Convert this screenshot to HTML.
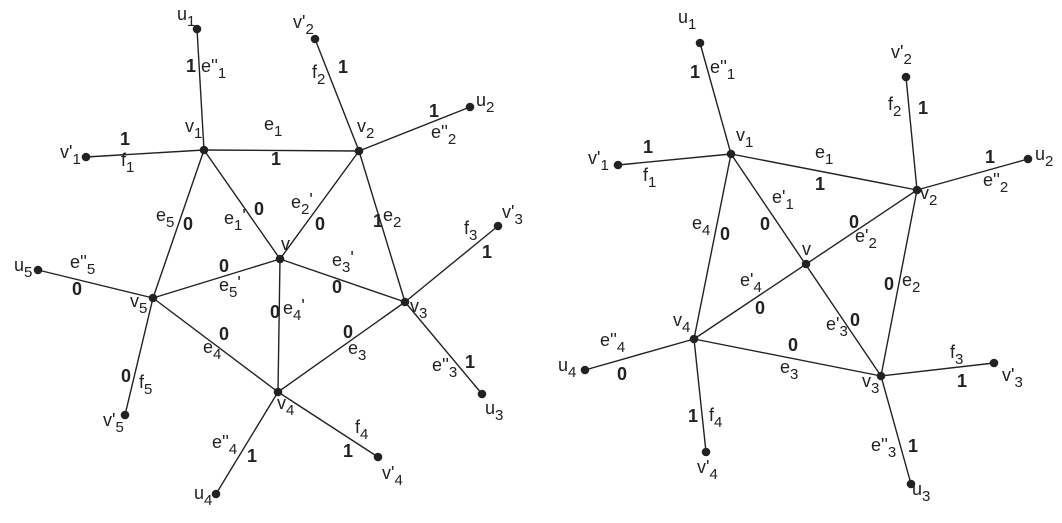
<!DOCTYPE html>
<html><head><meta charset="utf-8"><style>
html,body{margin:0;padding:0;background:#fff;}
svg{display:block;}
text{font-family:"Liberation Sans",Arial,sans-serif;font-size:18px;fill:#222;}
.b{font-weight:bold;}
line{stroke:#222;stroke-width:1.4;}
circle{fill:#222;}
</style></head><body>
<svg width="1062" height="523" viewBox="0 0 1062 523" xmlns="http://www.w3.org/2000/svg">
<g>
<line x1="197" y1="29" x2="204" y2="150"/>
<line x1="315" y1="39" x2="359" y2="151"/>
<line x1="470" y1="107" x2="359" y2="151"/>
<line x1="86" y1="157" x2="204" y2="150"/>
<line x1="204" y1="150" x2="359" y2="151"/>
<line x1="204" y1="150" x2="280" y2="259"/>
<line x1="204" y1="150" x2="153" y2="298"/>
<line x1="359" y1="151" x2="280" y2="259"/>
<line x1="359" y1="151" x2="405" y2="302"/>
<line x1="498" y1="226" x2="405" y2="302"/>
<line x1="38" y1="270" x2="153" y2="298"/>
<line x1="153" y1="298" x2="280" y2="259"/>
<line x1="280" y1="259" x2="405" y2="302"/>
<line x1="280" y1="259" x2="278" y2="392"/>
<line x1="153" y1="298" x2="278" y2="392"/>
<line x1="405" y1="302" x2="278" y2="392"/>
<line x1="405" y1="302" x2="482" y2="394"/>
<line x1="153" y1="298" x2="125" y2="415"/>
<line x1="278" y1="392" x2="378" y2="457"/>
<line x1="278" y1="392" x2="216" y2="494"/>
<circle cx="197" cy="29" r="4.3"/><circle cx="315" cy="39" r="4.3"/><circle cx="470" cy="107" r="4.3"/>
<circle cx="204" cy="150" r="4.3"/><circle cx="359" cy="151" r="4.3"/><circle cx="86" cy="157" r="4.3"/>
<circle cx="498" cy="226" r="4.3"/><circle cx="280" cy="259" r="4.3"/><circle cx="38" cy="270" r="4.3"/>
<circle cx="153" cy="298" r="4.3"/><circle cx="405" cy="302" r="4.3"/><circle cx="278" cy="392" r="4.3"/>
<circle cx="482" cy="394" r="4.3"/><circle cx="125" cy="415" r="4.3"/><circle cx="378" cy="457" r="4.3"/>
<circle cx="216" cy="494" r="4.3"/>

<text x="177" y="20">u<tspan dy="6" font-size="15">1</tspan></text>
<text class="b" x="186" y="72">1</text>
<text x="201" y="72">e''<tspan dy="6" font-size="15">1</tspan></text>
<text x="293" y="28">v'<tspan dy="6" font-size="15">2</tspan></text>
<text x="312" y="78">f<tspan dy="6" font-size="15">2</tspan></text>
<text class="b" x="338" y="73">1</text>
<text x="476" y="106">u<tspan dy="6" font-size="15">2</tspan></text>
<text class="b" x="429" y="117">1</text>
<text x="431" y="138">e''<tspan dy="6" font-size="15">2</tspan></text>
<text x="357" y="132">v<tspan dy="6" font-size="15">2</tspan></text>
<text x="185" y="132">v<tspan dy="6" font-size="15">1</tspan></text>
<text x="264" y="130">e<tspan dy="6" font-size="15">1</tspan></text>
<text class="b" x="271" y="165">1</text>
<text x="60" y="158">v'<tspan dy="6" font-size="15">1</tspan></text>
<text class="b" x="120" y="145">1</text>
<text x="121" y="166">f<tspan dy="6" font-size="15">1</tspan></text>
<text x="156" y="221">e<tspan dy="6" font-size="15">5</tspan></text>
<text class="b" x="183" y="230">0</text>
<text x="224" y="224">e<tspan dy="6" font-size="15">1</tspan><tspan dy="-8">'</tspan></text>
<text class="b" x="254" y="215">0</text>
<text x="291" y="208">e<tspan dy="6" font-size="15">2</tspan><tspan dy="-8">'</tspan></text>
<text class="b" x="315" y="230">0</text>
<text class="b" x="373" y="227">1</text>
<text x="383" y="221">e<tspan dy="6" font-size="15">2</tspan></text>
<text x="281" y="250">v</text>
<text x="464" y="234">f<tspan dy="6" font-size="15">3</tspan></text>
<text x="502" y="218">v'<tspan dy="6" font-size="15">3</tspan></text>
<text class="b" x="482" y="258">1</text>
<text x="14" y="271">u<tspan dy="6" font-size="15">5</tspan></text>
<text x="70" y="268">e''<tspan dy="6" font-size="15">5</tspan></text>
<text class="b" x="72" y="295">0</text>
<text class="b" x="219" y="272">0</text>
<text x="219" y="291">e<tspan dy="6" font-size="15">5</tspan><tspan dy="-8">'</tspan></text>
<text x="332" y="266">e<tspan dy="6" font-size="15">3</tspan><tspan dy="-8">'</tspan></text>
<text class="b" x="332" y="293">0</text>
<text x="130" y="307">v<tspan dy="6" font-size="15">5</tspan></text>
<text x="410" y="312">v<tspan dy="6" font-size="15">3</tspan></text>
<text class="b" x="270" y="318">0</text>
<text x="283" y="314">e<tspan dy="6" font-size="15">4</tspan><tspan dy="-8">'</tspan></text>
<text class="b" x="219" y="340">0</text>
<text x="203" y="353">e<tspan dy="6" font-size="15">4</tspan></text>
<text class="b" x="343" y="338">0</text>
<text x="348" y="354">e<tspan dy="6" font-size="15">3</tspan></text>
<text x="432" y="371">e''<tspan dy="6" font-size="15">3</tspan></text>
<text class="b" x="465" y="368">1</text>
<text class="b" x="121" y="382">0</text>
<text x="139" y="388">f<tspan dy="6" font-size="15">5</tspan></text>
<text x="103" y="426">v'<tspan dy="6" font-size="15">5</tspan></text>
<text x="485" y="414">u<tspan dy="6" font-size="15">3</tspan></text>
<text x="277" y="409">v<tspan dy="6" font-size="15">4</tspan></text>
<text x="355" y="433">f<tspan dy="6" font-size="15">4</tspan></text>
<text class="b" x="343" y="457">1</text>
<text x="212" y="448">e''<tspan dy="6" font-size="15">4</tspan></text>
<text class="b" x="247" y="462">1</text>
<text x="382" y="479">v'<tspan dy="6" font-size="15">4</tspan></text>
<text x="194" y="499">u<tspan dy="6" font-size="15">4</tspan></text>
</g>

<g>
<line x1="700" y1="43" x2="731" y2="154"/>
<line x1="906" y1="77" x2="917" y2="190"/>
<line x1="618" y1="165" x2="731" y2="154"/>
<line x1="1028" y1="159" x2="917" y2="190"/>
<line x1="731" y1="154" x2="917" y2="190"/>
<line x1="731" y1="154" x2="881" y2="376"/>
<line x1="731" y1="154" x2="694" y2="339"/>
<line x1="917" y1="190" x2="694" y2="339"/>
<line x1="917" y1="190" x2="881" y2="376"/>
<line x1="694" y1="339" x2="881" y2="376"/>
<line x1="585" y1="370" x2="694" y2="339"/>
<line x1="694" y1="339" x2="706" y2="452"/>
<line x1="881" y1="376" x2="994" y2="363"/>
<line x1="881" y1="376" x2="911" y2="484"/>
<circle cx="700" cy="43" r="4.3"/><circle cx="906" cy="77" r="4.3"/><circle cx="731" cy="154" r="4.3"/>
<circle cx="618" cy="165" r="4.3"/><circle cx="1028" cy="159" r="4.3"/><circle cx="917" cy="190" r="4.3"/>
<circle cx="806" cy="264" r="4.3"/><circle cx="694" cy="339" r="4.3"/><circle cx="585" cy="370" r="4.3"/>
<circle cx="881" cy="376" r="4.3"/><circle cx="994" cy="363" r="4.3"/><circle cx="706" cy="452" r="4.3"/>
<circle cx="911" cy="484" r="4.3"/>

<text x="678" y="23">u<tspan dy="6" font-size="15">1</tspan></text>
<text class="b" x="690" y="78">1</text>
<text x="710" y="73">e''<tspan dy="6" font-size="15">1</tspan></text>
<text x="891" y="58">v'<tspan dy="6" font-size="15">2</tspan></text>
<text x="888" y="110">f<tspan dy="6" font-size="15">2</tspan></text>
<text class="b" x="918" y="114">1</text>
<text x="736" y="141">v<tspan dy="6" font-size="15">1</tspan></text>
<text class="b" x="643" y="153">1</text>
<text x="588" y="164">v'<tspan dy="6" font-size="15">1</tspan></text>
<text x="643" y="181">f<tspan dy="6" font-size="15">1</tspan></text>
<text x="815" y="158">e<tspan dy="6" font-size="15">1</tspan></text>
<text class="b" x="815" y="190">1</text>
<text class="b" x="985" y="163">1</text>
<text x="1035" y="160">u<tspan dy="6" font-size="15">2</tspan></text>
<text x="983" y="186">e''<tspan dy="6" font-size="15">2</tspan></text>
<text x="920" y="199">v<tspan dy="6" font-size="15">2</tspan></text>
<text x="772" y="203">e'<tspan dy="6" font-size="15">1</tspan></text>
<text class="b" x="760" y="230">0</text>
<text x="692" y="229">e<tspan dy="6" font-size="15">4</tspan></text>
<text class="b" x="720" y="240">0</text>
<text class="b" x="849" y="228">0</text>
<text x="855" y="242">e'<tspan dy="6" font-size="15">2</tspan></text>
<text x="802" y="255">v</text>
<text x="740" y="286">e'<tspan dy="6" font-size="15">4</tspan></text>
<text class="b" x="755" y="314">0</text>
<text class="b" x="884" y="290">0</text>
<text x="902" y="286">e<tspan dy="6" font-size="15">2</tspan></text>
<text x="673" y="326">v<tspan dy="6" font-size="15">4</tspan></text>
<text x="826" y="330">e'<tspan dy="6" font-size="15">3</tspan></text>
<text class="b" x="850" y="326">0</text>
<text x="600" y="346">e''<tspan dy="6" font-size="15">4</tspan></text>
<text class="b" x="617" y="380">0</text>
<text x="558" y="371">u<tspan dy="6" font-size="15">4</tspan></text>
<text class="b" x="788" y="351">0</text>
<text x="780" y="373">e<tspan dy="6" font-size="15">3</tspan></text>
<text x="950" y="358">f<tspan dy="6" font-size="15">3</tspan></text>
<text class="b" x="957" y="387">1</text>
<text x="1002" y="381">v'<tspan dy="6" font-size="15">3</tspan></text>
<text x="862" y="387">v<tspan dy="6" font-size="15">3</tspan></text>
<text class="b" x="688" y="422">1</text>
<text x="709" y="421">f<tspan dy="6" font-size="15">4</tspan></text>
<text x="697" y="473">v'<tspan dy="6" font-size="15">4</tspan></text>
<text x="871" y="451">e''<tspan dy="6" font-size="15">3</tspan></text>
<text class="b" x="908" y="452">1</text>
<text x="912" y="495">u<tspan dy="6" font-size="15">3</tspan></text>
</g>
</svg>
</body></html>
